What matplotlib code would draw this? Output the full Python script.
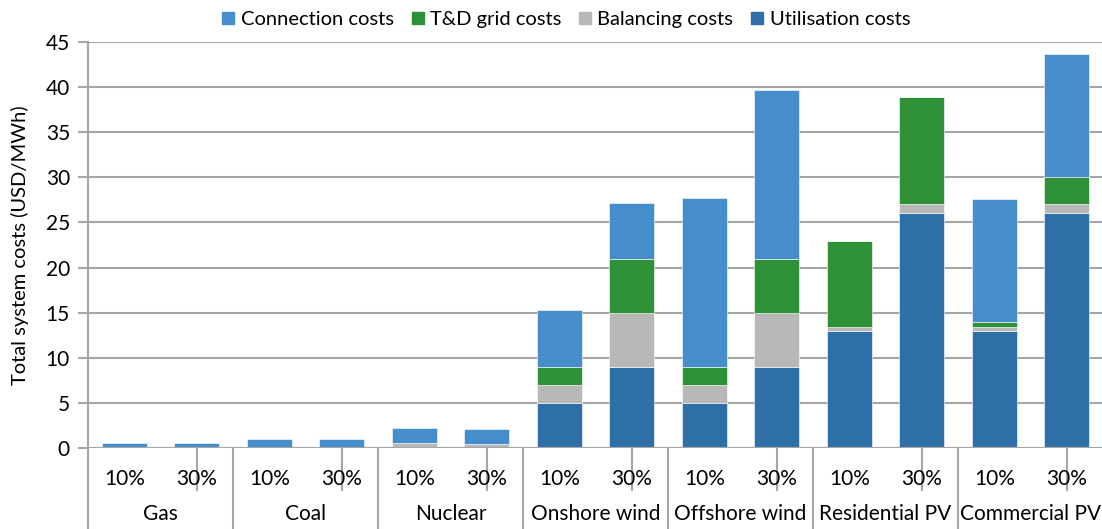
import matplotlib
matplotlib.use("Agg")
import matplotlib.pyplot as plt
from matplotlib.lines import Line2D
import numpy as np

plt.rcParams['font.family'] = ['Lato', 'DejaVu Sans']

groups = ["Gas", "Coal", "Nuclear", "Onshore wind", "Offshore wind", "Residential PV", "Commercial PV"]
shares = ["10%", "30%"]

utilisation = [0, 0, 0, 0, 0, 0, 5, 9, 5, 9, 13, 26, 13, 26]
balancing   = [0, 0, 0, 0, 0.5, 0.4, 2, 6, 2, 6, 0.45, 1, 0.45, 1]
td_grid     = [0, 0, 0, 0, 0, 0, 2, 6, 2, 6, 9.45, 11.9, 0.5, 3]
connection  = [0.5, 0.5, 1.0, 1.0, 1.7, 1.7, 6.3, 6.2, 18.7, 18.7, 0, 0, 13.7, 13.7]

series = [
    ("Utilisation costs", utilisation, "#2e6fa8"),
    ("Balancing costs", balancing, "#b8b8b8"),
    ("T&D grid costs", td_grid, "#2e9137"),
    ("Connection costs", connection, "#468ecb"),
]

fig = plt.figure(figsize=(11.02, 5.29), dpi=100)
ax = fig.add_axes([88/1102, (529-448)/529, (1103-88)/1102, (448-42)/529])

n = len(utilisation)
x = np.arange(n)
bottom = np.zeros(n)
handles = {}
for name, vals, col in series:
    v = np.array(vals, dtype=float)
    ax.bar(x, v, width=0.62, bottom=bottom, color=col, edgecolor="#ffffff", linewidth=0.4, zorder=3)
    handles[name] = col
    bottom += v

ax.set_xlim(-0.5, n - 0.5)
ax.set_ylim(0, 45)
ax.set_yticks(np.arange(0, 46, 5))
ax.yaxis.grid(True, color="#a6a6a6", linewidth=1.5, zorder=0)
ax.tick_params(axis="y", labelsize=15, length=7, width=1.5, color="#a6a6a6", pad=6)
ax.tick_params(axis="x", length=0, labelbottom=False)
for s in ["top", "right", "bottom"]:
    ax.spines[s].set_visible(False)
ax.spines["left"].set_color("#a6a6a6")
ax.spines["left"].set_linewidth(1.5)
ax.set_ylabel("Total system costs (USD/MWh)", fontsize=14.5, labelpad=12)

# two-level category axis
trans = ax.get_xaxis_transform()
axh_px = 448 - 42
def yfrac(py):
    return -(py - 448) / axh_px

for i in range(n):
    ax.text(x[i], yfrac(479), shares[i % 2], transform=trans, ha="center", va="center", fontsize=15)
for g, name in enumerate(groups):
    ax.text(2 * g + 0.5, yfrac(514), name, transform=trans, ha="center", va="center", fontsize=15)

sepcol = "#a6a6a6"
for i in range(n):
    if i % 2 == 1:
        ax.add_line(Line2D([i, i], [0, yfrac(490)], transform=trans, color=sepcol, lw=1.5, clip_on=False))
for g in range(1, len(groups)):
    xx = 2 * g - 0.5
    ax.add_line(Line2D([xx, xx], [0, yfrac(540)], transform=trans, color=sepcol, lw=1.5, clip_on=False))
ax.add_line(Line2D([-0.5, -0.5], [0, yfrac(540)], transform=trans, color=sepcol, lw=1.5, clip_on=False))
ax.axhline(0, color=sepcol, lw=1.5, zorder=4)

leg_order = ["Connection costs", "T&D grid costs", "Balancing costs", "Utilisation costs"]
leg_handles = [Line2D([], [], marker="s", linestyle="none", markersize=8, markerfacecolor=handles[k],
                      markeredgecolor=handles[k]) for k in leg_order]
fig.legend(leg_handles, leg_order, loc="upper center", bbox_to_anchor=(0.512, 1.013), ncol=4,
           frameon=False, fontsize=14.5, handletextpad=0.1, columnspacing=0.7, handlelength=1.0)

fig.savefig("out.png", dpi=100)
